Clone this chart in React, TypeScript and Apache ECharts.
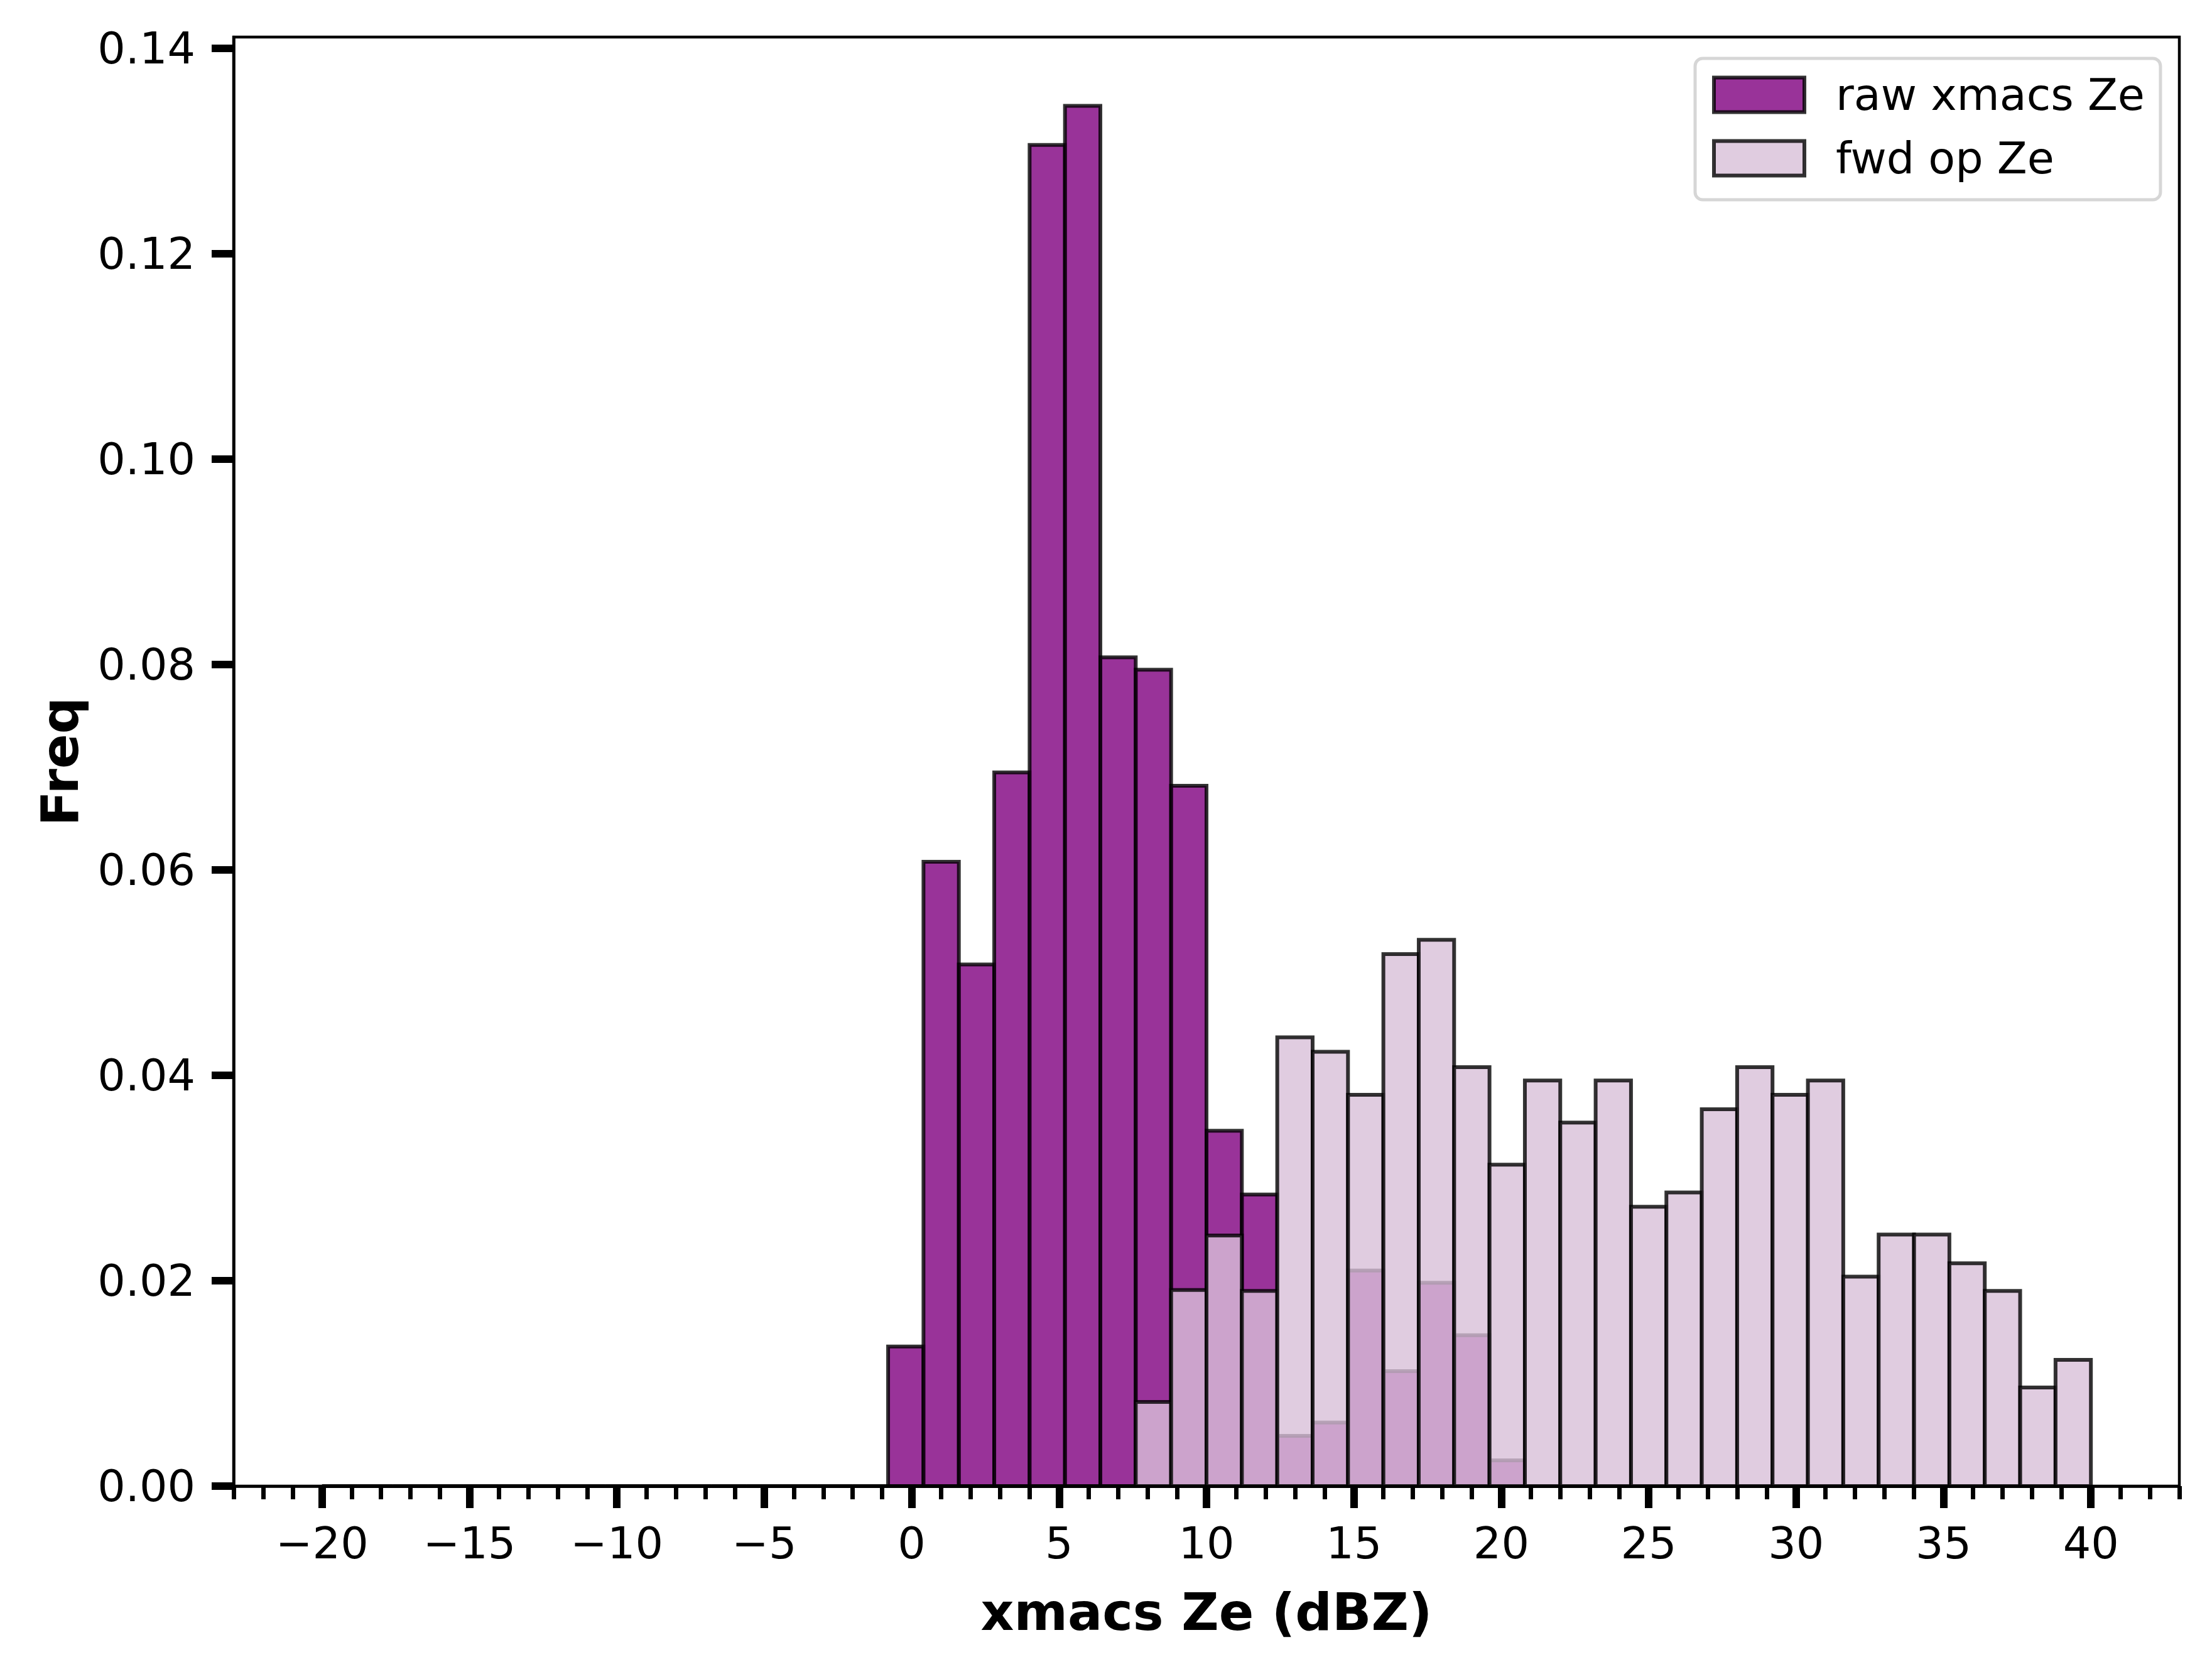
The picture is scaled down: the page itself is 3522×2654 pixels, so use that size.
import React, { useEffect, useRef } from "react";
import * as echarts from "echarts";

// Histogram bin edges (dBZ), 50 bins of 1.2 dBZ from -20 to 40
const BIN_EDGES = [
  -20, -18.8, -17.6, -16.4, -15.2, -14, -12.8, -11.6, -10.4, -9.2, -8, -6.8, -5.6, -4.4, -3.2, -2,
  -0.8, 0.4, 1.6, 2.8, 4, 5.2, 6.4, 7.6, 8.8, 10, 11.2, 12.4, 13.6, 14.8, 16, 17.2, 18.4, 19.6,
  20.8, 22, 23.2, 24.4, 25.6, 26.8, 28, 29.2, 30.4, 31.6, 32.8, 34, 35.2, 36.4, 37.6, 38.8, 40,
];

// raw xmacs Ze frequencies per bin
const RAW_FREQ = [
  0, 0, 0, 0, 0, 0, 0, 0, 0, 0, 0, 0, 0, 0, 0, 0,
  0.0136, 0.0608, 0.0508, 0.0695, 0.1306, 0.1344, 0.0807, 0.0795, 0.0682, 0.0346, 0.0284,
  0.0049, 0.0062, 0.021, 0.0112, 0.0198, 0.0147, 0.0025,
  0, 0, 0, 0, 0, 0, 0, 0, 0, 0, 0, 0, 0, 0, 0, 0,
];

// forward operator Ze frequencies per bin
const FWD_FREQ = [
  0, 0, 0, 0, 0, 0, 0, 0, 0, 0, 0, 0, 0, 0, 0, 0, 0, 0, 0, 0, 0, 0, 0,
  0.0082, 0.0191, 0.0244, 0.019, 0.0437, 0.0423, 0.0381, 0.0518, 0.0532, 0.0408, 0.0313,
  0.0395, 0.0354, 0.0395, 0.0272, 0.0286, 0.0367, 0.0408, 0.0381, 0.0395, 0.0204,
  0.0245, 0.0245, 0.0217, 0.019, 0.0096, 0.0123,
];

const X_MAJOR_TICKS = [-20, -15, -10, -5, 0, 5, 10, 15, 20, 25, 30, 35, 40];
const X_MINOR_TICKS = [
  -23, -22, -21, -19, -18, -17, -16, -14, -13, -12, -11, -9, -8, -7, -6, -4, -3, -2, -1,
  1, 2, 3, 4, 6, 7, 8, 9, 11, 12, 13, 14, 16, 17, 18, 19, 21, 22, 23, 24, 26, 27, 28, 29,
  31, 32, 33, 34, 36, 37, 38, 39, 41, 42, 43,
];
const Y_TICKS = [0, 0.02, 0.04, 0.06, 0.08, 0.1, 0.12, 0.14];

const X_MIN = -23;
const X_MAX = 43;
const Y_MAX = 0.1411;

const FONT = "DejaVu Sans";
const RAW_FILL = "rgba(128,0,128,0.8)";
const FWD_FILL = "rgba(216,191,216,0.8)";
const EDGE = "rgba(0,0,0,0.8)";
const EDGE_W = 6;

function toBins(values: number[]) {
  return values.map((v, i) => [BIN_EDGES[i], BIN_EDGES[i + 1], v]);
}

function makeRender(fill: string) {
  return (params: any, api: any) => {
    const x0 = api.value(0);
    const x1 = api.value(1);
    const y = api.value(2);
    const p0 = api.coord([x0, y]);
    const p1 = api.coord([x1, 0]);
    return {
      type: "rect",
      shape: { x: p0[0], y: p0[1], width: p1[0] - p0[0], height: p1[1] - p0[1] },
      style: { fill, stroke: EDGE, lineWidth: EDGE_W },
    };
  };
}

export default function App() {
  const ref = useRef<HTMLDivElement>(null);

  useEffect(() => {
    if (!ref.current) return;
    const chart = echarts.init(ref.current, null, { renderer: "svg" });
    const axisText = { color: "#000", fontFamily: FONT, fontSize: 70 };
    const nameText = { color: "#000", fontFamily: FONT, fontSize: 82, fontWeight: "bold" };

    chart.setOption({
      animation: false,
      backgroundColor: "#ffffff",
      grid: {
        left: 372,
        top: 59,
        right: 52,
        bottom: 288,
        show: true,
        borderColor: "#000",
        borderWidth: 4.5,
        backgroundColor: "transparent",
      },
      legend: {
        orient: "vertical",
        left: 2699,
        top: 93,
        padding: [23, 25, 31, 27],
        itemGap: 31,
        itemWidth: 144,
        itemHeight: 55,
        backgroundColor: "#ffffff",
        borderColor: "#d6d6d6",
        borderWidth: 5,
        borderRadius: 12,
        textStyle: { color: "#000", fontFamily: FONT, fontSize: 70, padding: [0, 0, 0, 45] },
        data: [
          {
            name: "raw xmacs Ze",
            icon: "rect",
            itemStyle: { color: RAW_FILL, borderColor: EDGE, borderWidth: EDGE_W },
          },
          {
            name: "fwd op Ze",
            icon: "rect",
            itemStyle: { color: FWD_FILL, borderColor: EDGE, borderWidth: EDGE_W },
          },
        ],
      },
      xAxis: [
        {
          type: "value",
          min: X_MIN,
          max: X_MAX,
          position: "bottom",
          z: 10,
          name: "xmacs Ze (dBZ)",
          nameLocation: "middle",
          nameGap: 159,
          nameTextStyle: nameText,
          axisLine: { show: true, onZero: false, lineStyle: { color: "#000", width: 4.5 } },
          axisTick: {
            show: true,
            length: 35,
            lineStyle: { color: "#000", width: 12 },
            customValues: X_MAJOR_TICKS,
          },
          axisLabel: {
            ...axisText,
            margin: 56,
            customValues: X_MAJOR_TICKS,
            formatter: (v: number) => (v < 0 ? "\u2212" + Math.abs(v) : String(v)),
          },
          splitLine: { show: false },
        },
        {
          type: "value",
          min: X_MIN,
          max: X_MAX,
          position: "bottom",
          z: 9,
          axisLine: { show: false, onZero: false },
          axisTick: {
            show: true,
            length: 21,
            lineStyle: { color: "#000", width: 7 },
            customValues: X_MINOR_TICKS,
          },
          axisLabel: { show: false },
          splitLine: { show: false },
        },
      ],
      yAxis: {
        type: "value",
        min: 0,
        max: Y_MAX,
        position: "left",
        z: 10,
        name: "Freq",
        nameLocation: "middle",
        nameGap: 236,
        nameTextStyle: nameText,
        axisLine: { show: true, onZero: false, lineStyle: { color: "#000", width: 4.5 } },
        axisTick: {
          show: true,
          length: 35,
          lineStyle: { color: "#000", width: 12 },
          customValues: Y_TICKS,
        },
        axisLabel: {
          ...axisText,
          margin: 61,
          customValues: Y_TICKS,
          formatter: (v: number) => v.toFixed(2),
        },
        splitLine: { show: false },
      },
      series: [
        {
          name: "raw xmacs Ze",
          type: "custom",
          xAxisIndex: 0,
          yAxisIndex: 0,
          itemStyle: { color: RAW_FILL, borderColor: EDGE, borderWidth: EDGE_W },
          renderItem: makeRender(RAW_FILL),
          encode: { x: [0, 1], y: 2 },
          data: toBins(RAW_FREQ),
          z: 2,
        },
        {
          name: "fwd op Ze",
          type: "custom",
          xAxisIndex: 0,
          yAxisIndex: 0,
          itemStyle: { color: FWD_FILL, borderColor: EDGE, borderWidth: EDGE_W },
          renderItem: makeRender(FWD_FILL),
          encode: { x: [0, 1], y: 2 },
          data: toBins(FWD_FREQ),
          z: 3,
        },
      ],
    });

    return () => chart.dispose();
  }, []);

  return (
    <div
      ref={ref}
      style={{ position: "absolute", left: 0, top: 0, width: 3522, height: 2654, background: "#fff" }}
    />
  );
}
